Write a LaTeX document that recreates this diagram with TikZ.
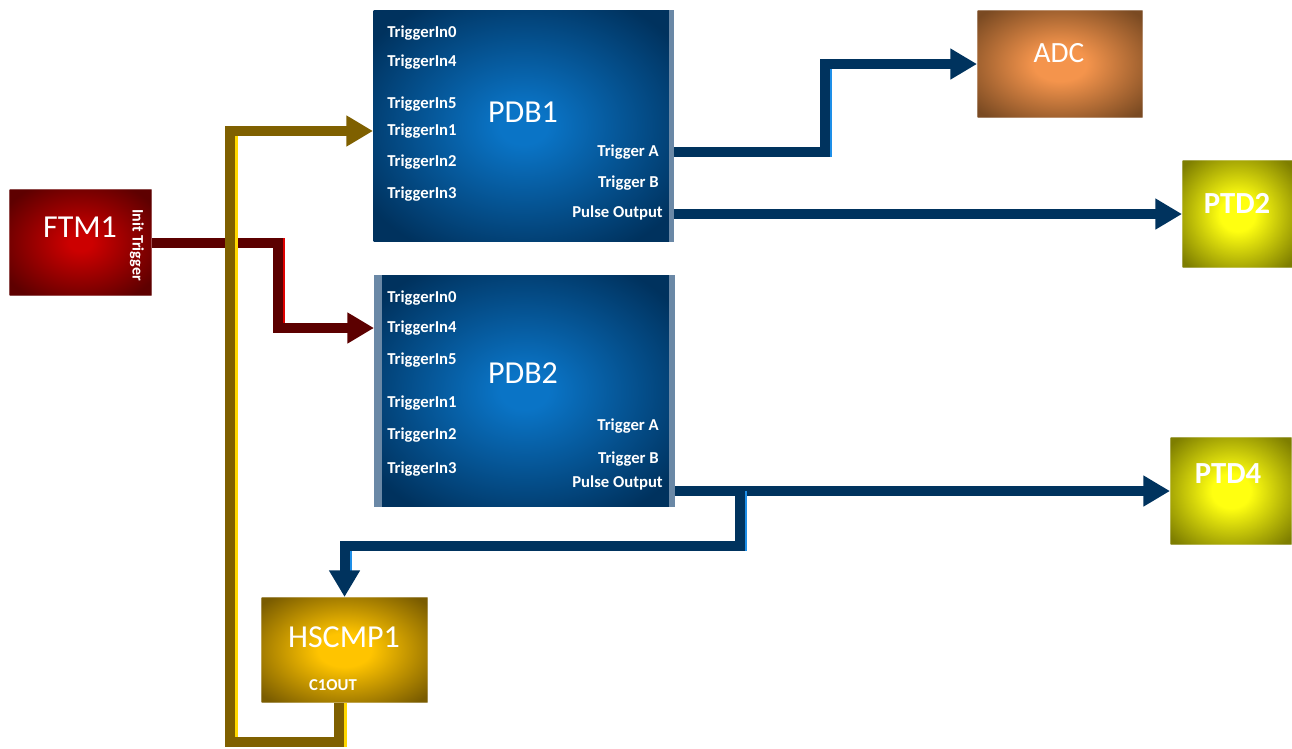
\documentclass[tikz,border=0pt]{standalone}
\usepackage{fontspec}
\setmainfont{Carlito}
\usetikzlibrary{arrows.meta}

\definecolor{pdbdark}{HTML}{00325E}
\definecolor{pdblight}{HTML}{0A74C6}
\definecolor{pdbedge}{HTML}{6A88A6}
\definecolor{ftmdark}{HTML}{5E0000}
\definecolor{ftmlight}{HTML}{CC0000}
\definecolor{adcdark}{HTML}{7A4A22}
\definecolor{adclight}{HTML}{F4944C}
\definecolor{ptddark}{HTML}{7E7E00}
\definecolor{ptdlight}{HTML}{FFFF10}
\definecolor{cmpdark}{HTML}{7A5C00}
\definecolor{cmplight}{HTML}{FFC400}
\definecolor{wireblue}{HTML}{00335E}
\definecolor{wirebluehi}{HTML}{1E8FE8}
\definecolor{wirered}{HTML}{5C0000}
\definecolor{wireredhi}{HTML}{E00000}
\definecolor{wiregold}{HTML}{7F6000}
\definecolor{wiregoldhi}{HTML}{FFD800}

% broad glows for the blocks
\pgfdeclareradialshading{pdbglow}{\pgfpointorigin}{color(0bp)=(pdblight); color(4bp)=(pdblight); color(31bp)=(pdbdark); color(50bp)=(pdbdark)}
\pgfdeclareradialshading{ftmglow}{\pgfpointorigin}{color(0bp)=(ftmlight); color(4bp)=(ftmlight); color(31bp)=(ftmdark); color(50bp)=(ftmdark)}
\pgfdeclareradialshading{adcglow}{\pgfpointorigin}{color(0bp)=(adclight); color(8bp)=(adclight); color(33bp)=(adcdark); color(50bp)=(adcdark)}
\pgfdeclareradialshading{ptdglow}{\pgfpointorigin}{color(0bp)=(ptdlight); color(8bp)=(ptdlight); color(33bp)=(ptddark); color(50bp)=(ptddark)}
\pgfdeclareradialshading{cmpglow}{\pgfpointorigin}{color(0bp)=(cmplight); color(8bp)=(cmplight); color(33bp)=(cmpdark); color(50bp)=(cmpdark)}

\begin{document}
\begin{tikzpicture}[
    x=0.75pt, y=-0.75pt,
    block/.style={anchor=north west, inner sep=0pt, draw=white, draw opacity=0.3, line width=0.8pt},
    pdb/.style={block, shading=pdbglow, draw=none, minimum width=300*0.75pt, minimum height=231*0.75pt},
    ftmbox/.style={block, shading=ftmglow, minimum width=142*0.75pt, minimum height=106*0.75pt},
    adcbox/.style={block, shading=adcglow, minimum width=165*0.75pt, minimum height=107*0.75pt},
    ptdbox/.style={block, shading=ptdglow, minimum height=107*0.75pt},
    cmpbox/.style={block, shading=cmpglow, minimum width=166*0.75pt, minimum height=105*0.75pt},
    title/.style={text=white, inner sep=0pt, font=\fontsize{24}{28}\selectfont},
    boldtitle/.style={title, font=\bfseries\fontsize{23}{27}\selectfont},
    port/.style={text=white, inner sep=0pt, font=\bfseries\fontsize{12.5}{14}\selectfont},
    inport/.style={port, anchor=west},
    outport/.style={port, anchor=east},
    wire/.style={line width=7.5pt, line join=miter, draw=#1, -{Triangle[length=20pt, width=22pt]}},
    hi/.style={preaction={draw=#1, -, line width=7.5pt, line join=miter, shorten >=18pt, transform canvas={xshift=1.8pt}}}
]
\useasboundingbox (0,0) rectangle (1292,749);

% blocks
\node[ftmbox] (ftm) at (9,189) {};
\node[pdb] (pdb1) at (373,10) {};
\node[pdb] (pdb2) at (374,275) {};
\node[adcbox] (adc) at (977,10) {};
\node[ptdbox, minimum width=110*0.75pt] (ptd2) at (1182,160) {};
\node[ptdbox, minimum width=121*0.75pt] (ptd4) at (1170,437) {};
\node[cmpbox] (hscmp) at (261,597) {};

% light edges of the PDB blocks
\fill[pdbedge] ([xshift=-3.75pt]pdb1.north east) rectangle (pdb1.south east);
\fill[pdbedge] (pdb2.north west) rectangle ([xshift=6pt]pdb2.south west);
\fill[pdbedge] ([xshift=-4.5pt]pdb2.north east) rectangle (pdb2.south east);

% block names
\node[title] (ftm-name) at (80,227) {FTM1};
\node[title] (pdb1-name) at (523,112) {PDB1};
\node[title] (pdb2-name) at (523,373) {PDB2};
\node[title, font=\fontsize{22}{26}\selectfont] (adc-name) at (1059,53) {ADC};
\node[boldtitle] (ptd2-name) at (1237,203) {PTD2};
\node[boldtitle] (ptd4-name) at (1228,474) {PTD4};
\node[title] (hscmp-name) at (344,637) {HSCMP1};

% ports
\node[port, rotate=-90, font=\bfseries\fontsize{12}{14}\selectfont] (ftminit) at (137,245) {Init Trigger};
\node[port] (hsc1out) at (333,685) {C1OUT};

\node[inport] (p1in0) at (387,33) {TriggerIn0};
\node[inport] (p1in4) at (387,62) {TriggerIn4};
\node[inport] (p1in5) at (387,104) {TriggerIn5};
\node[inport] (p1in1) at (387,131) {TriggerIn1};
\node[inport] (p1in2) at (387,162) {TriggerIn2};
\node[inport] (p1in3) at (387,194) {TriggerIn3};
\node[outport] (p1trigA) at (659,152) {Trigger A};
\node[outport] (p1trigB) at (659,183) {Trigger B};
\node[outport] (p1pulse) at (663,213) {Pulse Output};

\node[inport] (p2in0) at (387,298) {TriggerIn0};
\node[inport] (p2in4) at (387,328) {TriggerIn4};
\node[inport] (p2in5) at (387,360) {TriggerIn5};
\node[inport] (p2in1) at (387,403) {TriggerIn1};
\node[inport] (p2in2) at (387,435) {TriggerIn2};
\node[inport] (p2in3) at (387,469) {TriggerIn3};
\node[outport] (p2trigA) at (659,426) {Trigger A};
\node[outport] (p2trigB) at (659,459) {Trigger B};
\node[outport] (p2pulse) at (663,483) {Pulse Output};

% connectors
\draw[wire=wireblue, hi=wirebluehi] (pdb1.east |- p1trigA) -- ++(151,0) |- (adc.west);
\draw[wire=wireblue] (pdb1.east |- ptd2.west) -- (ptd2.west);
\draw[wire=wireblue] (pdb2.east |- ptd4.west) -- (ptd4.west);
\path (pdb2.east |- ptd4.west) ++(65,0) coordinate (split);
\draw[wire=wireblue, hi=wirebluehi] (split) -- ++(0,55) -| (hscmp.north);
\draw[wire=wirered, hi=wireredhi] (ftm.east) -- ++(126,0) |- (pdb2.west |- p2in4);
\draw[wire=wiregold, hi=wiregoldhi] ([xshift=-4pt]hscmp.south) -- ++(0,39) -- ++(-109,0) |- (pdb1.west |- p1in1);
\end{tikzpicture}
\end{document}
